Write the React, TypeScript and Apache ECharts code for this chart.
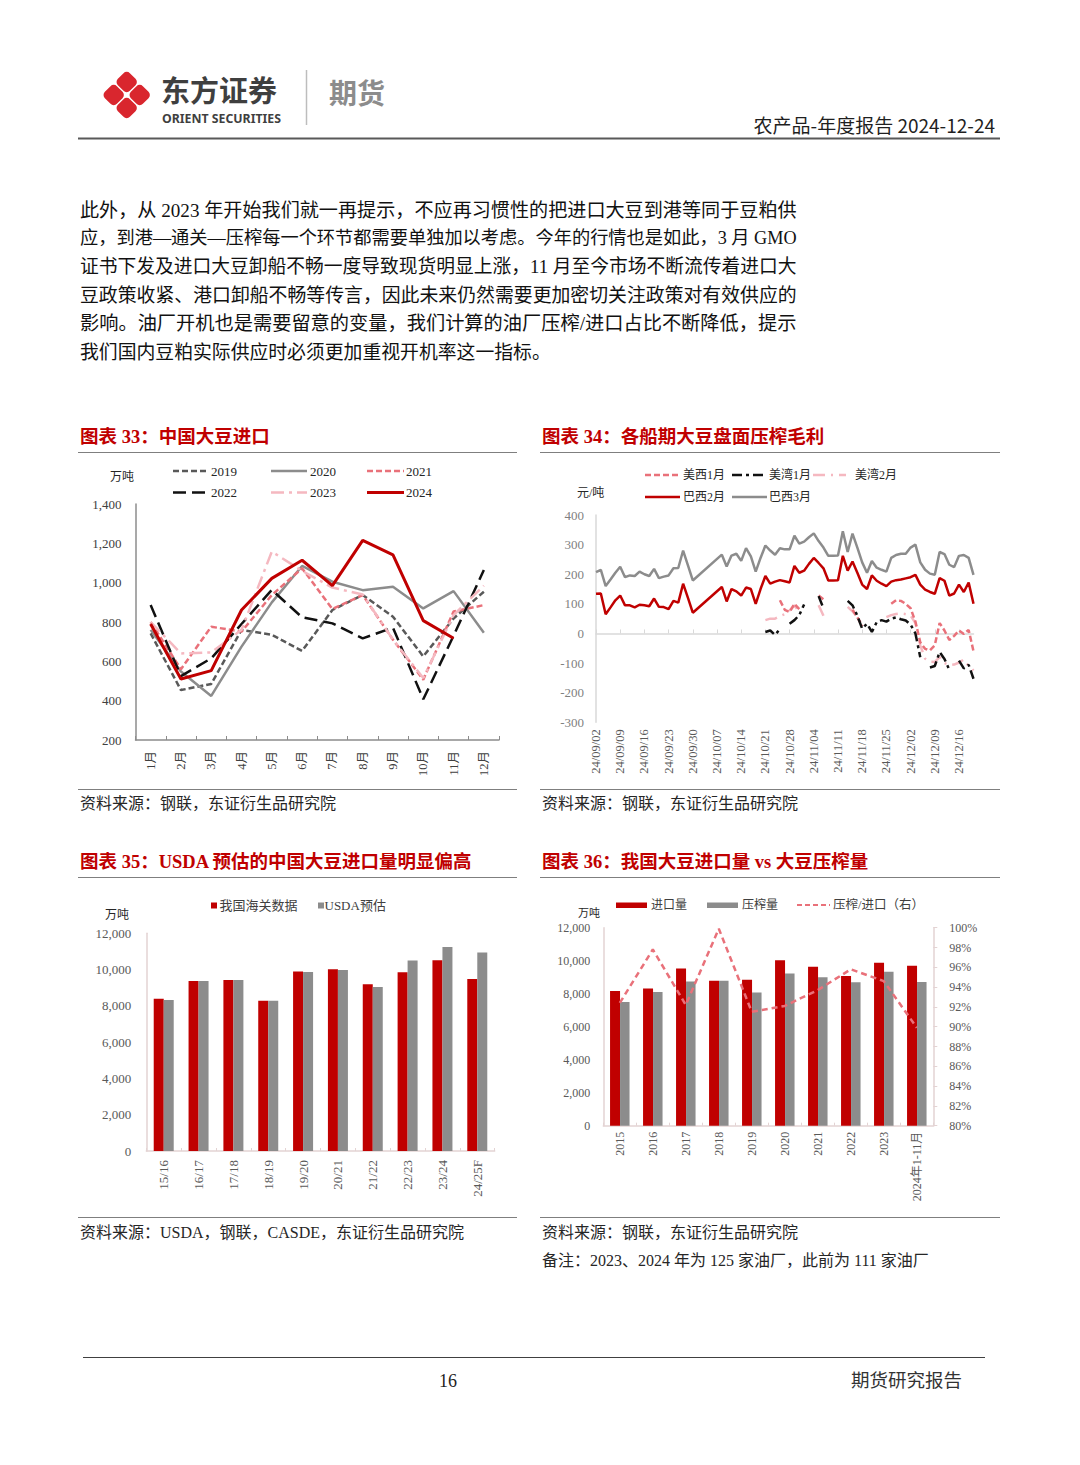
import React, { useEffect, useRef } from 'react';
import * as echarts from 'echarts';

// ---------- Chart 33: 中国大豆进口 (万吨) ----------
const months = ['1月', '2月', '3月', '4月', '5月', '6月', '7月', '8月', '9月', '10月', '11月', '12月'];
const imp2019 = [742, 454, 485, 760, 735, 653, 861, 937, 827, 625, 818, 954];
const imp2020 = [760, 548, 424, 675, 900, 1085, 1005, 962, 979, 869, 957, 745];
const imp2021 = [800, 560, 776, 751, 937, 1073, 866, 937, 710, 507, 853, 886];
const imp2022 = [886, 525, 615, 790, 963, 824, 793, 717, 771, 407, 730, 1064];
const imp2023 = [800, 640, 645, 760, 1158, 1060, 975, 940, 710, 515, 835, 985];
const imp2024 = [790, 510, 553, 861, 1022, 1114, 985, 1215, 1141, 807, 717, null];
const ticks33 = [200, 400, 600, 800, 1000, 1200, 1400];

// ---------- Chart 34: 各船期大豆盘面压榨毛利 (元/吨) ----------
const brazilFeb = [
  134, 135, 65, 88, 112, 128, 95, 95, 88, 97,
  95, 92, 118, 90, 89, 82, 110, 104, 168, 120,
  70, null, null, null, null, null, 157, 108, 150, 142,
  128, 155, 150, 100, 150, 194, 168, 175, 180, 176,
  172, 228, 205, 212, 235, 255, 238, 220, 179, 179,
  180, 262, 212, 243, 205, 165, 150, 196, 178, 168,
  160, 175, 180, 182, 186, 190, 198, 165, 148, 140,
  134, 187, 178, 128, 135, 165, 140, 172, 100,
];
const brazilMar = [
  207, 215, 160, 182, 205, 225, 190, 196, 194, 209,
  200, 194, 218, 187, 192, 196, 220, 221, 280, 230,
  179, null, null, null, null, null, 266, 226, 263, 269,
  245, 288, 260, 209, 255, 297, 280, 266, 288, 284,
  284, 330, 303, 310, 325, 338, 312, 290, 262, 262,
  263, 345, 275, 337, 290, 240, 205, 245, 222, 215,
  209, 255, 265, 269, 269, 290, 300, 240, 215, 202,
  198, 275, 268, 232, 224, 262, 265, 255, 198,
];
const usWestJan = [
  null, null, null, null, null, null, null, null, null, null,
  null, null, null, null, null, null, null, null, null, null,
  null, null, null, null, null, null, null, null, null, null,
  null, null, null, null, null, null, null, null, 112, 80,
  72, 100, 82, null, null, null, 128, 115, null, null,
  null, null, null, 80, 55, 25, null, null, null, null,
  null, 100, 112, 110, 100, 85, 40, -30, -52, -57,
  -40, 35, 10, -22, -8, 10, -2, 12, -60,
];
const usGulfJan = [
  null, null, null, null, null, null, null, null, null, null,
  null, null, null, null, null, null, null, null, null, null,
  null, null, null, null, null, null, null, null, null, null,
  null, null, null, null, null, 5, 10, -5, 15, null,
  33, 45, 62, 98, null, null, 126, 85, null, null,
  null, null, 110, 95, 60, 16, 33, 5, 38, 45,
  40, 50, 54, 48, 44, 30, 0, -80, null, -115,
  -110, -63, -86, -122, null, -92, -118, -106, -153,
];
const usGulfFeb = [
  null, null, null, null, null, null, null, null, null, null,
  null, null, null, null, null, null, null, null, null, null,
  null, null, null, null, null, null, null, null, null, null,
  null, null, null, null, null, 45, 50, 50, 58, 65,
  78, 95, 72, null, null, null, 95, 60, null, null,
  null, null, 90, 75, 55, 30, null, null, null, null,
  55, 62, 66, 68, 65, 60, 35, -40, -85, -95,
  -96, -80, -100, -107, -105, -98, -88, -110, -125,
];

// weekday trading dates 24/09/02 onward (category labels)
const tradeDates: string[] = (() => {
  const out: string[] = [];
  const d = new Date(2024, 8, 2);
  while (out.length < brazilFeb.length) {
    const wd = d.getDay();
    if (wd !== 0 && wd !== 6) {
      const mm = String(d.getMonth() + 1).padStart(2, '0');
      const dd = String(d.getDate()).padStart(2, '0');
      out.push(`24/${mm}/${dd}`);
    }
    d.setDate(d.getDate() + 1);
  }
  return out;
})();

// ---------- Chart 35: USDA 预估 vs 海关 (万吨) ----------
const years35 = ['15/16', '16/17', '17/18', '18/19', '19/20', '20/21', '21/22', '22/23', '23/24', '24/25F'];
const customsData = [8390, 9370, 9430, 8280, 9890, 10020, 9190, 9850, 10520, 9480];
const usdaData = [8330, 9370, 9430, 8280, 9870, 9980, 9040, 10500, 11240, 10940];

// ---------- Chart 36: 进口量 vs 压榨量 ----------
const years36 = ['2015', '2016', '2017', '2018', '2019', '2020', '2021', '2022', '2023', '2024年1-11月'];
const importVol = [8160, 8310, 9530, 8780, 8840, 10020, 9630, 9080, 9880, 9690];
const crushVol = [7490, 8100, 8740, 8780, 8080, 9220, 9000, 8690, 9330, 8710];
const crushRatio = [92.4, 97.8, 92.2, 99.9, 91.5, 92.1, 93.7, 95.8, 94.6, 89.9];

const paragraph = [
  '此外，从 2023 年开始我们就一再提示，不应再习惯性的把进口大豆到港等同于豆粕供',
  '应，到港—通关—压榨每一个环节都需要单独加以考虑。今年的行情也是如此，3 月 GMO',
  '证书下发及进口大豆卸船不畅一度导致现货明显上涨，11 月至今市场不断流传着进口大',
  '豆政策收紧、港口卸船不畅等传言，因此未来仍然需要更加密切关注政策对有效供应的',
  '影响。油厂开机也是需要留意的变量，我们计算的油厂压榨/进口占比不断降低，提示',
  '我们国内豆粕实际供应时必须更加重视开机率这一指标。',
];

const SERIF = "'Liberation Serif', 'Noto Sans CJK SC', serif";
const SANS = "'Noto Sans CJK SC', 'Noto Sans', sans-serif";
const RED = '#C00000';
const GRAY = '#8C8C8C';
const PINK = '#E9717A';
const LIGHTPINK = '#F5B8C0';

const thousands = (v: number) => String(v).replace(/\B(?=(\d{3})+(?!\d))/g, ',');

const measureWidth = (t: string, size: number, family: string) => {
  try {
    const ctx = document.createElement('canvas').getContext('2d');
    if (!ctx) return 0;
    ctx.font = `${size}px ${family}`;
    return ctx.measureText(t).width;
  } catch (e) {
    return 0;
  }
};

const txt = (x: number, y: number, text: string, o: any = {}) => ({
  type: 'text',
  x,
  y,
  silent: true,
  style: {
    text,
    fill: o.fill || '#262626',
    fontSize: o.size || 14,
    fontFamily: o.family || SERIF,
    fontWeight: o.weight || 'normal',
    textAlign: o.align || 'left',
    align: o.align || 'left',
    textVerticalAlign: 'middle',
    verticalAlign: 'middle',
  },
});
const ln = (x1: number, y1: number, x2: number, y2: number, stroke: string, w = 1, dash?: number[]) => ({
  type: 'line',
  silent: true,
  shape: { x1, y1, x2, y2 },
  style: { stroke, lineWidth: w, lineDash: dash || null },
});
const box = (x: number, y: number, w: number, h: number, fill: string) => ({
  type: 'rect',
  silent: true,
  shape: { x, y, width: w, height: h },
  style: { fill },
});
const logoPiece = (cx: number, cy: number) => ({
  type: 'rect',
  x: cx,
  y: cy,
  rotation: Math.PI / 4,
  silent: true,
  shape: { x: -8.5, y: -8.5, width: 17, height: 17, r: 4.5 },
  style: { fill: '#D9262E' },
});

export default function App() {
  const ref = useRef<HTMLDivElement>(null);

  useEffect(() => {
    if (!ref.current) return;
    const chart = echarts.init(ref.current, null, { renderer: 'svg' });

    const axisLbl = { fontFamily: SERIF, fontSize: 13, color: '#404040' };
    const lightAxis = '#E3D3D3';

    // justify paragraph lines to the column width by font size
    const colWidth = 717;
    const sizes = paragraph.map((t, i) => {
      if (i === paragraph.length - 1) return 0;
      const w = measureWidth(t, 18, SERIF);
      if (!w) return 18.6;
      return Math.max(17.5, Math.min(19.6, (18 * colWidth) / w));
    });
    const full = sizes.filter((s) => s > 0);
    const avg = full.reduce((a, b) => a + b, 0) / full.length;
    const paraSizes = sizes.map((s) => (s > 0 ? s : avg));

    const lineS = (name: string, data: any[], xi: number, yi: number, color: string, width: number, type: any, z = 2, connect = false) => ({
      name,
      type: 'line',
      data,
      xAxisIndex: xi,
      yAxisIndex: yi,
      symbol: 'none',
      connectNulls: connect,
      z,
      lineStyle: { color, width, type },
      itemStyle: { color },
    });

    const graphics: any[] = [
      // header
      logoPiece(126.7, 82),
      logoPiece(113.7, 95),
      logoPiece(139.7, 95),
      logoPiece(126.7, 108),
      txt(161, 88.5, '东方证券', { size: 29, weight: 'bold', family: SANS, fill: '#3F3F3F' }),
      txt(162, 118, 'ORIENT SECURITIES', { size: 12.3, weight: 'bold', family: "'Noto Sans', sans-serif", fill: '#3F3F3F' }),
      ln(306.5, 70, 306.5, 125, '#BDBDBD', 1.5),
      txt(329, 92, '期货', { size: 28, weight: 'bold', family: SANS, fill: '#8C8C8C' }),
      txt(995, 124, '农产品-年度报告 2024-12-24', { size: 19, family: SANS, fill: '#1F1F1F', align: 'right' }),
      ln(78, 138.5, 1000, 138.5, '#595959', 2),
      // paragraph
      ...paragraph.map((t, i) => txt(80, 210 + i * 28.4, t, { size: paraSizes[i], fill: '#111111' })),
      // titles
      txt(80, 437, '图表 33：中国大豆进口', { size: 18.5, weight: 'bold', fill: RED }),
      txt(542, 437, '图表 34：各船期大豆盘面压榨毛利', { size: 18.5, weight: 'bold', fill: RED }),
      txt(80, 862, '图表 35：USDA 预估的中国大豆进口量明显偏高', { size: 18.5, weight: 'bold', fill: RED }),
      txt(542, 862, '图表 36：我国大豆进口量 vs 大豆压榨量', { size: 18.5, weight: 'bold', fill: RED }),
      ln(78, 452.5, 517, 452.5, '#7F7F7F', 1),
      ln(540, 452.5, 1000, 452.5, '#7F7F7F', 1),
      ln(78, 789.5, 517, 789.5, '#7F7F7F', 1),
      ln(540, 789.5, 1000, 789.5, '#7F7F7F', 1),
      ln(78, 877.5, 517, 877.5, '#7F7F7F', 1),
      ln(540, 877.5, 1000, 877.5, '#7F7F7F', 1),
      ln(78, 1217.5, 517, 1217.5, '#7F7F7F', 1),
      ln(540, 1217.5, 1000, 1217.5, '#7F7F7F', 1),
      // sources
      txt(80, 803, '资料来源：钢联，东证衍生品研究院', { size: 16 }),
      txt(542, 803, '资料来源：钢联，东证衍生品研究院', { size: 16 }),
      txt(80, 1232, '资料来源：USDA，钢联，CASDE，东证衍生品研究院', { size: 16 }),
      txt(542, 1232, '资料来源：钢联，东证衍生品研究院', { size: 16 }),
      txt(542, 1260, '备注：2023、2024 年为 125 家油厂，此前为 111 家油厂', { size: 16 }),
      // footer
      ln(83, 1357.5, 985, 1357.5, '#404040', 1),
      txt(448, 1381, '16', { size: 18, align: 'center', fill: '#1F1F1F' }),
      txt(962, 1381, '期货研究报告', { size: 18.5, align: 'right', fill: '#333333' }),

      // chart 33 legend
      txt(110, 477, '万吨', { size: 12, fill: '#262626' }),
      ln(173, 471, 209, 471, '#595959', 2.5, [6, 3]),
      txt(211, 471, '2019', { size: 13 }),
      ln(271, 471, 307, 471, GRAY, 2.5),
      txt(310, 471, '2020', { size: 13 }),
      ln(367, 471, 404, 471, PINK, 2.5, [6, 3]),
      txt(406, 471, '2021', { size: 13 }),
      ln(173, 492.5, 209, 492.5, '#111111', 2.5, [13, 6]),
      txt(211, 492.5, '2022', { size: 13 }),
      ln(271, 492.5, 307, 492.5, LIGHTPINK, 2.5, [13, 5, 3, 5]),
      txt(310, 492.5, '2023', { size: 13 }),
      ln(367, 492.5, 404, 492.5, RED, 3),
      txt(406, 492.5, '2024', { size: 13 }),

      // chart 34 legend
      txt(577, 492.5, '元/吨', { size: 12 }),
      ln(645, 475, 680, 475, PINK, 2.5, [6, 3]),
      txt(683, 475, '美西1月', { size: 12 }),
      ln(732, 475, 764, 475, '#111111', 2.5, [10, 4, 3, 4]),
      txt(769, 475, '美湾1月', { size: 12 }),
      ln(813, 475, 846, 475, LIGHTPINK, 2.5, [12, 6, 2, 6]),
      txt(855, 475, '美湾2月', { size: 12 }),
      ln(645, 497, 680, 497, RED, 2.5),
      txt(683, 497, '巴西2月', { size: 12 }),
      ln(732, 497, 767, 497, GRAY, 2.5),
      txt(769, 497, '巴西3月', { size: 12 }),

      // chart 35 legend
      txt(105, 915, '万吨', { size: 12 }),
      box(211, 902.5, 6, 6, RED),
      txt(219.5, 905.5, '我国海关数据', { size: 13, fill: '#404040' }),
      box(318, 902.5, 6, 6, GRAY),
      txt(324.5, 905.5, 'USDA预估', { size: 13, fill: '#404040' }),

      // chart 36 legend
      txt(578, 913, '万吨', { size: 11 }),
      box(616, 902.5, 31, 5.5, RED),
      txt(651, 905, '进口量', { size: 12, fill: '#404040' }),
      box(707, 902.5, 31, 5.5, GRAY),
      txt(742, 905, '压榨量', { size: 12, fill: '#404040' }),
      ln(797, 905, 830, 905, PINK, 2, [5, 3]),
      txt(833, 905, '压榨/进口（右）', { size: 12.5, fill: '#404040' }),
    ];

    const option: any = {
      animation: false,
      backgroundColor: '#FFFFFF',
      textStyle: { fontFamily: SERIF },
      grid: [
        { left: 135.5, top: 504, width: 363.5, height: 236, containLabel: false },
        { left: 596, top: 515, width: 377.5, height: 207.3, containLabel: false },
        { left: 146.3, top: 933.3, width: 348.4, height: 217.7, containLabel: false },
        { left: 603.3, top: 927.7, width: 330, height: 198, containLabel: false },
      ],
      xAxis: [
        {
          gridIndex: 0, type: 'category', data: months, boundaryGap: true,
          axisLine: { lineStyle: { color: '#8C8C8C', width: 1.5 } },
          axisTick: { show: true, inside: true, length: 4, lineStyle: { color: '#8C8C8C' } },
          axisLabel: { ...axisLbl, rotate: 90, margin: 11, fontSize: 12.5 },
        },
        {
          gridIndex: 1, type: 'category', data: tradeDates, boundaryGap: false, position: 'bottom',
          axisLine: { show: false, onZero: false },
          axisTick: { show: false },
          axisLabel: { ...axisLbl, color: '#595959', rotate: 90, margin: 7, fontSize: 12.5, interval: 4 },
        },
        {
          gridIndex: 1, type: 'category', data: tradeDates, boundaryGap: false, position: 'bottom',
          axisLine: { show: true, onZero: true, lineStyle: { color: '#D9D9D9', width: 1.5 } },
          axisTick: { show: true, inside: true, length: 4, interval: 4, lineStyle: { color: '#D9D9D9' } },
          axisLabel: { show: false },
        },
        {
          gridIndex: 2, type: 'category', data: years35, boundaryGap: true,
          axisLine: { lineStyle: { color: lightAxis, width: 1.5 } },
          axisTick: { show: true, inside: true, length: 3, lineStyle: { color: lightAxis } },
          axisLabel: { ...axisLbl, color: '#595959', rotate: 90, margin: 9, fontSize: 13 },
        },
        {
          gridIndex: 3, type: 'category', data: years36, boundaryGap: true,
          axisLine: { lineStyle: { color: lightAxis, width: 1.5 } },
          axisTick: { show: true, inside: true, length: 3, lineStyle: { color: lightAxis } },
          axisLabel: { ...axisLbl, color: '#595959', rotate: 90, margin: 6, fontSize: 12 },
        },
      ],
      yAxis: [
        {
          gridIndex: 0, type: 'value', min: ticks33[0], max: ticks33[ticks33.length - 1], interval: 200,
          axisLine: { show: true, lineStyle: { color: '#8C8C8C', width: 1.5 } },
          axisTick: { show: false }, splitLine: { show: false },
          axisLabel: { ...axisLbl, margin: 14, formatter: (v: number) => thousands(v) },
        },
        {
          gridIndex: 1, type: 'value', min: -300, max: 400, interval: 100,
          axisLine: { show: true, lineStyle: { color: '#D9D9D9', width: 1.5 } },
          axisTick: { show: false }, splitLine: { show: false },
          axisLabel: { ...axisLbl, color: '#7F7F7F', margin: 12 },
        },
        {
          gridIndex: 2, type: 'value', min: 0, max: 12000, interval: 2000,
          axisLine: { show: true, lineStyle: { color: lightAxis, width: 1.5 } },
          axisTick: { show: false }, splitLine: { show: false },
          axisLabel: { ...axisLbl, color: '#595959', margin: 15, formatter: (v: number) => thousands(v) },
        },
        {
          gridIndex: 3, type: 'value', min: 0, max: 12000, interval: 2000,
          axisLine: { show: true, lineStyle: { color: lightAxis, width: 1.5 } },
          axisTick: { show: false }, splitLine: { show: false },
          axisLabel: { ...axisLbl, color: '#595959', fontSize: 12, margin: 13, formatter: (v: number) => thousands(v) },
        },
        {
          gridIndex: 3, type: 'value', position: 'right', min: 80, max: 100, interval: 2,
          axisLine: { show: true, lineStyle: { color: lightAxis, width: 1.5 } },
          axisTick: { show: true, length: 4, lineStyle: { color: lightAxis } }, splitLine: { show: false },
          axisLabel: { ...axisLbl, color: '#595959', fontSize: 12, margin: 16, formatter: '{value}%' },
        },
      ],
      series: [
        // chart 33
        lineS('2019', imp2019, 0, 0, '#595959', 2.5, [6, 3], 2),
        lineS('2020', imp2020, 0, 0, GRAY, 2.5, 'solid', 2),
        lineS('2021', imp2021, 0, 0, PINK, 2.5, [6, 3], 3),
        lineS('2022', imp2022, 0, 0, '#111111', 2.5, [13, 6], 3),
        lineS('2023', imp2023, 0, 0, LIGHTPINK, 2.5, [13, 5, 3, 5], 3),
        lineS('2024', imp2024, 0, 0, RED, 3, 'solid', 5),
        // chart 34
        lineS('巴西3月', brazilMar, 1, 1, GRAY, 2.5, 'solid', 2, true),
        lineS('巴西2月', brazilFeb, 1, 1, RED, 2.5, 'solid', 3, true),
        lineS('美湾2月', usGulfFeb, 1, 1, LIGHTPINK, 2.5, [12, 6, 2, 6], 3),
        lineS('美西1月', usWestJan, 1, 1, PINK, 2.5, [6, 3], 4),
        lineS('美湾1月', usGulfJan, 1, 1, '#111111', 2.5, [10, 4, 3, 4], 5),
        // chart 35
        {
          name: '我国海关数据', type: 'bar', data: customsData, xAxisIndex: 3, yAxisIndex: 2,
          barWidth: 10, barGap: '0%', itemStyle: { color: RED },
        },
        {
          name: 'USDA预估', type: 'bar', data: usdaData, xAxisIndex: 3, yAxisIndex: 2,
          barWidth: 10, barGap: '0%', itemStyle: { color: GRAY },
        },
        // chart 36
        {
          name: '进口量', type: 'bar', data: importVol, xAxisIndex: 4, yAxisIndex: 3,
          barWidth: 10, barGap: '0%', itemStyle: { color: RED },
        },
        {
          name: '压榨量', type: 'bar', data: crushVol, xAxisIndex: 4, yAxisIndex: 3,
          barWidth: 9.5, barGap: '0%', itemStyle: { color: GRAY },
        },
        lineS('压榨/进口（右）', crushRatio, 4, 4, PINK, 2.5, [6, 4], 6),
      ],
      graphic: { elements: graphics },
    };

    chart.setOption(option);
    return () => chart.dispose();
  }, []);

  return (
    <div
      ref={ref}
      style={{ position: 'absolute', left: 0, top: 0, width: 1080, height: 1465, background: '#fff' }}
    />
  );
}
